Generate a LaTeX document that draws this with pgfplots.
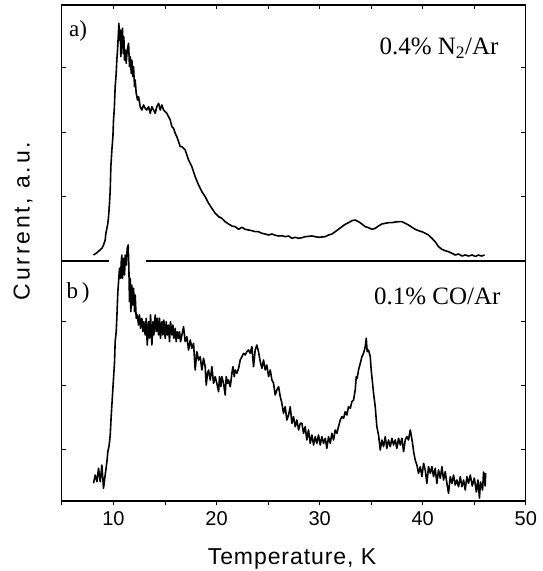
\documentclass[border=0pt]{standalone}
\usepackage{fontspec}
\setmainfont{Liberation Sans}
\newfontfamily\seriffont{Liberation Serif}
\newfontfamily\xlabfont[LetterSpace=4]{Liberation Sans}
\newfontfamily\ylabfont[LetterSpace=12]{Liberation Sans}
\usepackage{pgfplots}
\pgfplotsset{compat=1.18}

\pgfplotstableread{
x y
8.07 5
8.40 7.3
8.88 11.7
9.04 15
9.20 20
9.27 26.7
9.37 31.7
9.46 36.7
9.53 43.3
9.62 56.7
9.69 70
9.75 93.3
9.85 110
9.95 123.3
10.01 140
10.08 150
10.17 173.3
10.27 186.7
10.33 200
10.40 210
10.50 230
10.53 236.7
10.59 220
10.66 230
10.72 203.3
10.82 226.7
10.88 231.7
10.95 206.7
11.01 223.3
11.08 200
11.14 210
11.24 196.7
11.34 210
11.47 216.7
11.56 193.3
11.63 203.3
11.73 186.7
11.79 200
11.89 183.3
11.95 193.3
12.05 173.3
12.11 180
12.21 166.7
12.34 160
12.44 163.3
12.60 153.3
12.76 150
12.92 155
13.08 151.7
13.24 150
13.41 153.3
13.57 146.7
13.73 153.3
13.89 150
14.05 146.7
14.21 153.3
14.38 156.7
14.54 150
14.70 155
14.86 150
15.02 148.3
15.18 146.7
15.35 143.3
15.51 140
15.67 133.3
15.83 131.7
15.99 126.7
16.15 123.3
16.32 118.3
16.48 113.3
16.64 113.3
16.96 110
17.29 100
17.61 93.3
17.93 83.3
18.26 75
18.58 68.3
18.90 63.3
19.23 56.7
19.55 51.7
19.87 46.7
20.20 43.3
20.52 41.7
20.84 38.3
21.17 36
21.49 34
21.81 33.3
22.14 30.7
22.46 32.7
22.78 30.7
23.10 30
23.43 29.3
23.75 28.3
24.07 28.3
24.40 26.7
24.72 26
25.05 25
25.37 26
25.69 24.7
26.02 24
26.34 24.3
26.66 23.3
26.99 24
27.31 21.7
27.63 22.7
27.96 21.7
28.28 22.3
28.60 23.3
29.25 24
29.89 22.7
30.54 23.3
30.86 25
31.19 26
31.51 28.3
31.83 30.7
32.16 33.3
32.48 35.7
32.80 37.3
33.13 39.3
33.45 40
33.77 38.3
34.10 36
34.42 33.3
34.74 32.3
35.07 30.7
35.39 31.7
35.71 34
36.04 36
36.36 36.7
36.68 37.3
37.01 37.3
37.33 38
37.65 38.3
37.98 38.3
38.30 36.7
38.62 35
38.95 32.7
39.27 30.7
39.59 29.3
39.92 28.3
40.24 26.7
40.56 25
40.89 21.7
41.21 18.3
41.53 13.3
41.86 10.7
42.18 9.3
42.50 8.3
42.83 6.7
43.15 5
43.47 6
43.80 4
44.12 5
44.44 4
44.80 5
45.10 3.5
45.40 5
45.70 4
46.00 5
}\dataA

\pgfplotstableread{
x y
8.07 16.7
8.23 25
8.40 18.3
8.56 31.7
8.72 18.3
8.88 35
9.04 11.7
9.20 25
9.37 38.3
9.46 48.3
9.59 55
9.69 65
9.79 85
9.85 95
9.95 111.7
10.01 121.7
10.11 138.3
10.17 158.3
10.27 168.3
10.33 181.7
10.43 208.3
10.50 218.3
10.59 231.7
10.69 221.7
10.76 238.3
10.82 245
10.88 221.7
10.98 241.7
11.08 225
11.14 245
11.24 235
11.34 251.7
11.43 255
11.50 231.7
11.56 198.3
11.63 221.7
11.69 188.3
11.79 215
11.85 195
11.95 211.7
12.05 188.3
12.11 205
12.21 181.7
12.31 185
12.44 175
12.53 185
12.63 171.7
12.76 181.7
12.86 168.3
12.95 178.3
13.08 165
13.18 181.7
13.28 155
13.41 178.3
13.50 161.7
13.60 185
13.73 155
13.83 178.3
13.92 165
14.05 185
14.15 168.3
14.25 181.7
14.38 165
14.47 181.7
14.57 161.7
14.70 178.3
14.80 165
14.89 180
15.02 161.7
15.12 178.3
15.22 165
15.35 175
15.44 158.3
15.54 178.3
15.67 165
15.77 175
15.86 161.7
15.99 171.7
16.09 158.3
16.19 168.3
16.32 161.7
16.41 168.3
16.51 158.3
16.64 165
16.80 173.3
16.96 158.3
17.12 163.3
17.29 150
17.45 160
17.61 151.7
17.77 156.7
17.93 130
18.09 148.3
18.26 140
18.42 143.3
18.58 130
18.74 141.7
18.90 133.3
19.00 115
19.13 126.7
19.23 130
19.39 120
19.55 133.3
19.71 116.7
19.87 123.3
20.03 116.7
20.20 108.3
20.29 123.3
20.42 113.3
20.52 123.3
20.68 116.7
20.84 105
20.94 123.3
21.07 116.7
21.17 120
21.33 113.3
21.49 126.7
21.59 133.3
21.72 123.3
21.81 130
21.97 126.7
22.14 131.7
22.30 140
22.46 143.3
22.62 146.7
22.78 145
22.94 148.3
23.10 150
23.27 146.7
23.43 153.3
23.59 133.3
23.75 150
23.91 155
24.07 148.3
24.24 138.3
24.40 131.7
24.56 140
24.72 130
24.88 135
25.05 123.3
25.21 130
25.37 120
25.53 116.7
25.69 105
25.85 110
26.02 113.3
26.18 103.3
26.34 96.7
26.50 86.7
26.66 93.3
26.82 80
26.99 85
27.15 93.3
27.31 76.7
27.47 83.3
27.63 73.3
27.79 80
27.96 70
28.12 76.7
28.28 76.7
28.44 66.7
28.60 73.3
28.76 60
28.92 70
29.09 56.7
29.25 65
29.41 55
29.57 63.3
29.73 56.7
29.89 65
30.06 55
30.22 63.3
30.38 56.7
30.54 61.7
30.70 51.7
30.86 63.3
31.03 56.7
31.19 66.7
31.35 60
31.51 70
31.67 66.7
31.83 73.3
32.00 80
32.16 83.3
32.32 81.7
32.48 88.3
32.64 85
32.80 93.3
32.97 91.7
33.13 98.3
33.29 100
33.45 110
33.55 123.3
33.64 121.7
33.77 130
33.94 136.7
34.10 143.3
34.26 146.7
34.42 153.3
34.52 161.7
34.61 148.3
34.74 150
34.91 143.3
35.00 130
35.10 120
35.23 106.7
35.39 93.3
35.55 73.3
35.71 65
35.88 50
36.04 60
36.20 53.3
36.36 63.3
36.52 51.7
36.68 60
36.85 53.3
37.01 61.7
37.17 55
37.33 60
37.49 51.7
37.65 61.7
37.82 55
37.98 61.7
38.14 48.3
38.30 60
38.46 63.3
38.62 60
38.79 70
38.88 65
39.01 56.7
39.14 46.7
39.27 40
39.43 35
39.59 26.7
39.76 33.3
39.92 23.3
40.08 36.7
40.24 30
40.40 16.7
40.56 33.3
40.73 26.7
40.89 33.3
41.05 23.3
41.21 31.7
41.37 16.7
41.53 30
41.70 21.7
41.86 33.3
42.02 20
42.18 28.3
42.34 16.7
42.50 6.7
42.67 23.3
42.83 16.7
42.99 25
43.15 15
43.31 20
43.47 13.3
43.64 23.3
43.80 13.3
43.96 20
44.12 10
44.28 23.3
44.44 16.7
44.61 25
44.80 14
45.00 22
45.20 8
45.35 20
45.50 2
45.60 18
45.80 10
45.90 28
46.05 14
46.10 27
}\dataB

\begin{document}
\begin{tikzpicture}[x=1pt,y=1pt]
\pgfplotsset{
  common/.style={
    scale only axis, width=464pt, xmin=5, xmax=50,
    axis line style={draw=none},
    major tick length=4.5pt, minor tick length=4.5pt,
    every tick/.style={black, line width=0.9pt},
    clip=false,
    /pgf/number format/assume math mode=true,
    tick label style={font=\fontsize{20}{20}\selectfont},
  }
}
% upper panel
\begin{axis}[common, at={(60,310)}, anchor=south west, height=256pt,
  ymin=-1, ymax=255, tick align=inside,
  xtick={10,20,30,40,50}, minor xtick={15,25,35,45}, xtick pos=right,
  xticklabels={}, ytick={64,128,193}, yticklabels={}, ytick pos=both]
  \addplot[black, line width=1.6pt, line join=round] table[x=x,y=y] {\dataA};
  \draw[black, line width=1.2pt] (rel axis cs:0,0) -- (rel axis cs:0,1) -- (rel axis cs:1,1) -- (rel axis cs:1,0);
  \draw[black, line width=1.2pt] (axis cs:5,-1) -- (axis cs:9.53,-1);
  \draw[black, line width=1.2pt] (axis cs:13.15,-1) -- (axis cs:50,-1);
\end{axis}
% lower panel: x ticks outward
\begin{axis}[common, at={(60,70)}, anchor=south west, height=240pt,
  ymin=-1, ymax=239, tick align=outside,
  xtick={10,20,30,40,50}, minor xtick={5,15,25,35,45}, xtick pos=left,
  xticklabel style={yshift=-3pt},
  ytick=\empty]
\end{axis}
% lower panel: data and y ticks inward
\begin{axis}[common, at={(60,70)}, anchor=south west, height=240pt,
  ymin=-1, ymax=239, tick align=inside,
  xtick=\empty, ytick={51,115,179}, yticklabels={}, ytick pos=both]
  \addplot[black, line width=1.6pt, line join=round] table[x=x,y=y] {\dataB};
  \draw[black, line width=1.2pt] (rel axis cs:0,1) -- (rel axis cs:0,0) -- (rel axis cs:1,0) -- (rel axis cs:1,1);
\end{axis}
% labels
\node[font=\seriffont\fontsize{23}{23}\selectfont, anchor=center] at (78,540) {a)};
\node[font=\seriffont\fontsize{25}{25}\selectfont, anchor=base east] at (502,516) {0.4\% N\textsubscript{2}/Ar};
\node[font=\seriffont\fontsize{23}{23}\selectfont, anchor=center] at (78,278) {b\,)};
\node[font=\seriffont\fontsize{25}{25}\selectfont, anchor=base east] at (504,266) {0.1\% CO/Ar};
\node[font=\xlabfont\fontsize{23}{23}\selectfont, anchor=base] at (292,6) {Temperature, K};
\node[font=\ylabfont\fontsize{23}{23}\selectfont, anchor=center, rotate=90] at (23,350) {Current, a.u.};
\pgfresetboundingbox
\path (0,0) rectangle (543,571);
\end{tikzpicture}
\end{document}
